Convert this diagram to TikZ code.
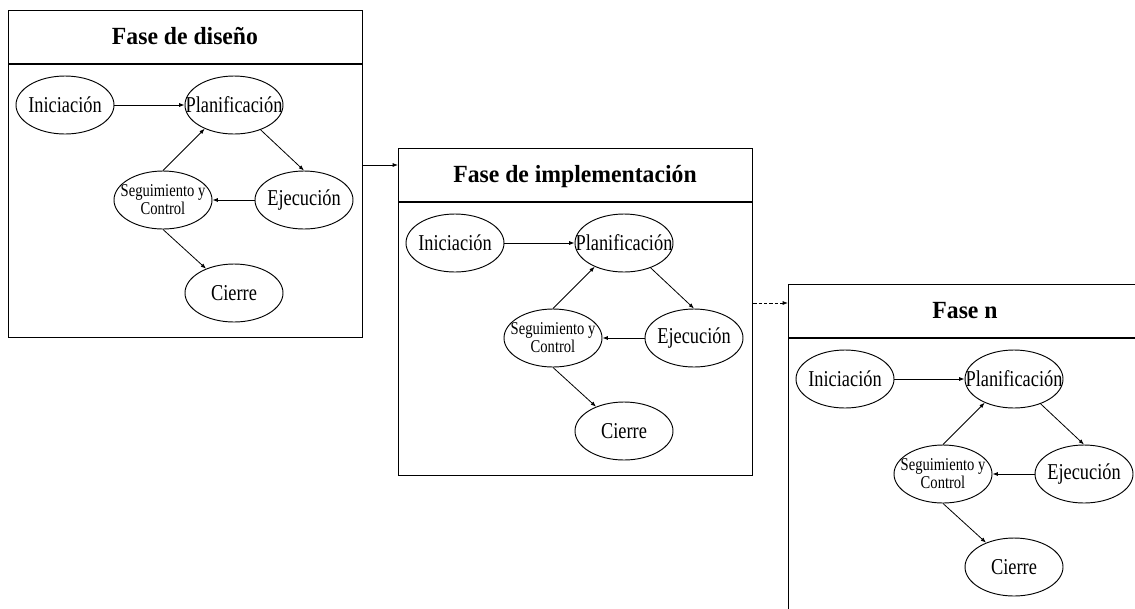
\documentclass[tikz,border=0pt]{standalone}
\usepackage{fontspec}
\setmainfont{Liberation Serif}
\newfontfamily\labelfont[FakeStretch=0.81]{Liberation Serif}
\newfontfamily\headfont[FakeStretch=0.96]{Liberation Serif}
\usetikzlibrary{shapes.geometric,arrows.meta,calc}

\tikzset{
  phasebox/.style={draw, line width=1pt, minimum width=265.5pt,
    minimum height=245.25pt, anchor=north west, inner sep=0pt},
  headline/.style={line width=1.3pt},
  headtitle/.style={font=\headfont\bfseries\fontsize{18.5}{22}\selectfont},
  stage/.style={draw, ellipse, line width=0.7pt, minimum width=73.5pt,
    minimum height=43.5pt, inner xsep=-25pt, inner ysep=0pt,
    font=\labelfont\fontsize{17}{20}\selectfont},
  smallstage/.style={stage, align=center,
    font=\labelfont\fontsize{13.5}{13.5}\selectfont},
  flow/.style={-{Latex[length=4pt,width=3pt]}, line width=0.6pt},
  laterflow/.style={flow, dash pattern=on 2.5pt off 1.5pt},
}

% One project phase: #1 name, #2/#3 top-left corner, #4 heading
\newcommand\phasediagram[4]{%
  \begin{scope}[shift={(#2,#3)}]
    \node[phasebox] (#1) at (0,0) {};
    \draw[headline] ([yshift=-40.5pt]#1.north west) -- ([yshift=-40.5pt]#1.north east);
    \node[headtitle, anchor=base] (#1-title) at (177,34) {#4};
    \node[stage] (#1-ini) at (57,95) {Iniciación};
    \node[stage] (#1-pla) at (226,95) {Planificación};
    \node[stage] (#1-eje) at (296,190) {Ejecución};
    \node[smallstage] (#1-seg) at (155,190) {Seguimiento y\\Control};
    \node[stage] (#1-cie) at (226,283) {Cierre};
    \draw[flow] (#1-ini) -- (#1-pla);
    \draw[flow] (#1-pla.-43) -- (#1-eje.north);
    \draw[flow] (#1-eje) -- (#1-seg);
    \draw[flow] (#1-seg.north) -- (#1-pla.219);
    \draw[flow] (#1-seg.south) -- (#1-cie.139);
    \coordinate (#1-out) at ([yshift=-116.25pt]#1.north east);
  \end{scope}}

\begin{document}
\begin{tikzpicture}[x=0.75pt, y=-0.75pt]
  \clip (0,0) rectangle (1135,608);
  \phasediagram{p1}{8}{10}{Fase de diseño}
  \phasediagram{p2}{398}{148}{Fase de implementación}
  \phasediagram{p3}{788}{284}{Fase n}
  \draw[flow] (p1-out) -- (p1-out -| p2.west);
  \draw[laterflow] (p2-out) -- (p2-out -| p3.west);
\end{tikzpicture}
\end{document}
